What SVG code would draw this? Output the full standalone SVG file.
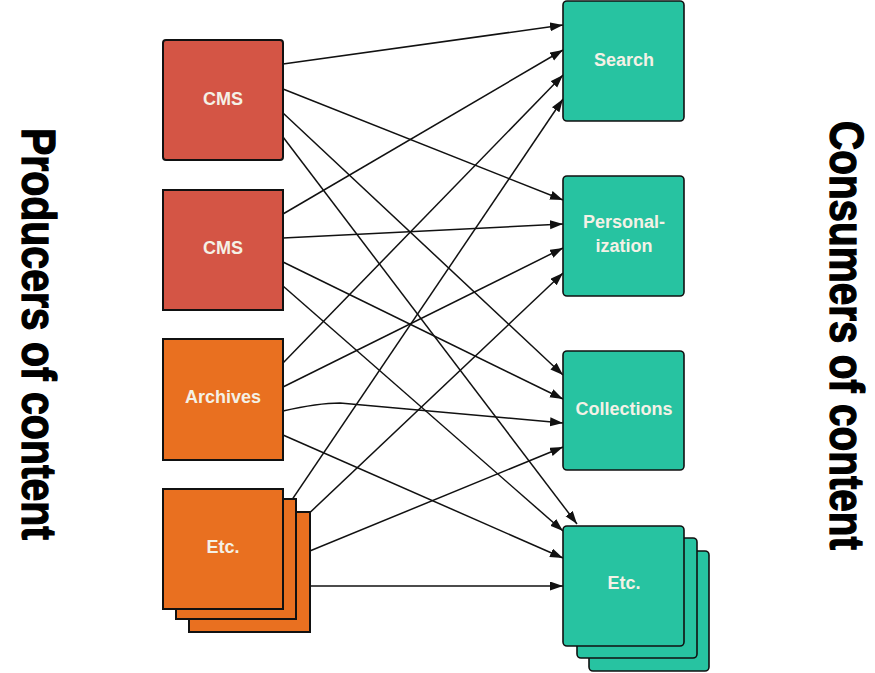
<svg xmlns="http://www.w3.org/2000/svg" width="875" height="673" viewBox="0 0 875 673">
<defs>
<marker id="arr" markerUnits="userSpaceOnUse" markerWidth="14" markerHeight="10" refX="13" refY="4.5" orient="auto">
<path d="M0,0 L13,4.5 L0,9 z" fill="#111"/>
</marker>
<style>
.cms{fill:#d45545;stroke:#111;stroke-width:2}
.arc{fill:#e97020;stroke:#111;stroke-width:2}
.con{fill:#27c3a1;stroke:#111;stroke-width:1.6}
.lbl{font-family:"Liberation Sans",Arial,sans-serif;font-weight:bold;font-size:18px;fill:#f4f1e6;text-anchor:middle}
.big{font-family:"Liberation Sans",Arial,sans-serif;font-weight:bold;font-size:48px;fill:#000;stroke:#000;stroke-width:1.3}
.ln{fill:none;stroke:#111;stroke-width:1.5;marker-end:url(#arr)}
</style>
</defs>
<rect width="875" height="673" fill="#fff"/>
<g id="connectors">
<path class="ln" d="M283,64 L563,25"/>
<path class="ln" d="M283,89 L563,200"/>
<path class="ln" d="M283,113 L563,375"/>
<path class="ln" d="M283,137 L577,524"/>
<path class="ln" d="M283,214 L563,50"/>
<path class="ln" d="M283,238 L563,224"/>
<path class="ln" d="M283,262 L563,399"/>
<path class="ln" d="M283,286 L563,531"/>
<path class="ln" d="M283,363 L563,75"/>
<path class="ln" d="M283,387 L563,248"/>
<path class="ln" d="M283,411 C305,406 322,403 340,403 L563,423"/>
<path class="ln" d="M283,435 L563,558"/>
<path class="ln" d="M283,513 L563,99"/>
<path class="ln" d="M283,538 L563,273"/>
<path class="ln" d="M283,562 L563,447"/>
<path class="ln" d="M283,586 L563,586"/>
</g>
<g id="producer-cms-1">
<rect class="cms" x="163" y="40" width="120" height="120" rx="3"/>
<text class="lbl" x="223" y="105">CMS</text>
</g>
<g id="producer-cms-2">
<rect class="cms" x="163" y="190" width="120" height="120"/>
<text class="lbl" x="223" y="254">CMS</text>
</g>
<g id="producer-archives">
<rect class="arc" x="163" y="339" width="120" height="121"/>
<text class="lbl" x="223" y="403">Archives</text>
</g>
<g id="producer-etc">
<rect class="arc" x="189" y="512" width="121" height="120"/>
<rect class="arc" x="176" y="499" width="120" height="120"/>
<rect class="arc" x="163" y="489" width="120" height="120"/>
<text class="lbl" x="223" y="553">Etc.</text>
</g>
<g id="consumer-search">
<rect class="con" x="563" y="1" width="121" height="120" rx="4"/>
<text class="lbl" x="624" y="66">Search</text>
</g>
<g id="consumer-personalization">
<rect class="con" x="563" y="176" width="121" height="120" rx="4"/>
<text class="lbl" x="624" y="228">Personal-</text>
<text class="lbl" x="624" y="252">ization</text>
</g>
<g id="consumer-collections">
<rect class="con" x="563" y="351" width="121" height="119" rx="4"/>
<text class="lbl" x="624" y="415">Collections</text>
</g>
<g id="consumer-etc">
<rect class="con" x="589" y="551" width="120" height="120" rx="4"/>
<rect class="con" x="577" y="538" width="120" height="120" rx="4"/>
<rect class="con" x="563" y="526" width="121" height="120" rx="4"/>
<text class="lbl" x="624" y="589">Etc.</text>
</g>
<g id="title-producers">
<text class="big" transform="translate(22,128) rotate(90)" textLength="412" lengthAdjust="spacingAndGlyphs">Producers of content</text>
</g>
<g id="title-consumers">
<text class="big" transform="translate(830,121) rotate(90)" textLength="429" lengthAdjust="spacingAndGlyphs">Consumers of content</text>
</g>
</svg>
